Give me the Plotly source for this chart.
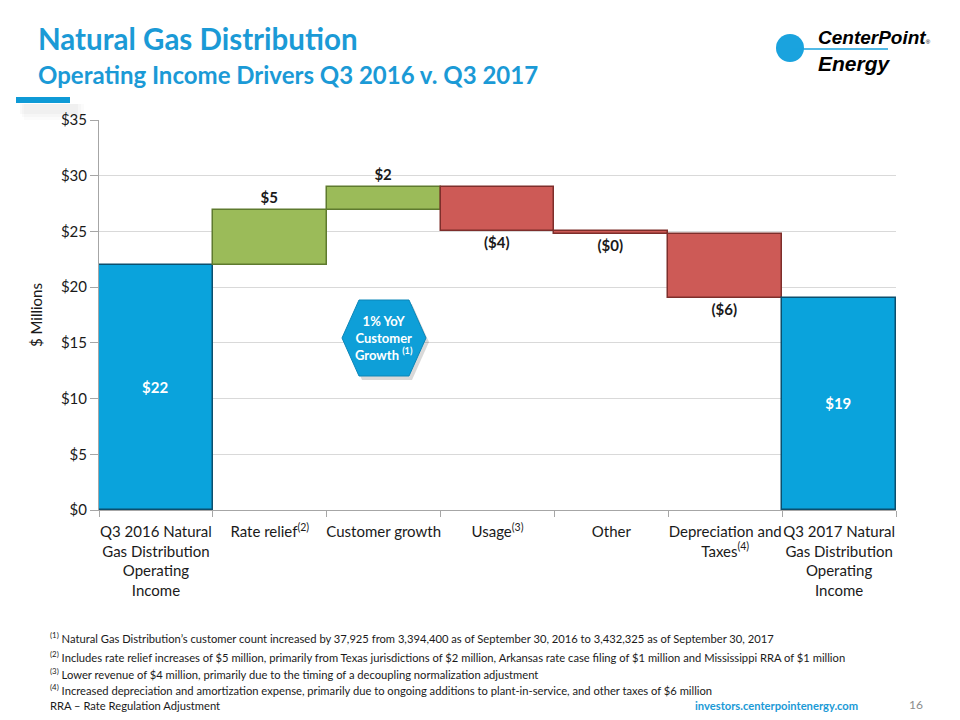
import plotly.graph_objects as go

# ---- data ----
categories = [
    "Q3 2016 Natural<br>Gas Distribution<br>Operating<br>Income",
    "Rate relief<sup>(2)</sup>",
    "Customer growth",
    "Usage<sup>(3)</sup>",
    "Other",
    "Depreciation and<br>Taxes<sup>(4)</sup>",
    "Q3 2017 Natural<br>Gas Distribution<br>Operating<br>Income",
]
values = [22.0, 4.9, 2.1, -4.0, -0.2, -5.8, 0]
measures = ["absolute", "relative", "relative", "relative", "relative", "relative", "total"]
end_value = 19.0
y_ticks = [0, 5, 10, 15, 20, 25, 30, 35]
y_tick_text = [f"${v}" for v in y_ticks]

footnotes = [
    "<sup>(1)</sup> Natural Gas Distribution\u2019s customer count increased by 37,925 from 3,394,400 as of September 30, 2016 to 3,432,325 as of September 30, 2017",
    "<sup>(2)</sup> Includes rate relief increases of $5 million, primarily from Texas jurisdictions of $2 million, Arkansas rate case filing of $1 million and Mississippi RRA of $1 million",
    "<sup>(3)</sup> Lower revenue of $4 million, primarily due to the timing of a decoupling normalization adjustment",
    "<sup>(4)</sup> Increased depreciation and amortization expense, primarily due to ongoing additions to plant-in-service, and other taxes of $6 million",
    "RRA \u2013 Rate Regulation Adjustment",
]

def fmt(v):
    r = round(abs(v))
    return f"(${r})" if v < 0 else f"${r}"

labels = [fmt(v) for v in values[:-1]] + [fmt(end_value)]
positions = ["inside"] + ["outside"] * 5 + ["inside"]

FONT = "Lato, 'Open Sans', sans-serif"
BLUE = "#1B9AD6"

fig = go.Figure(go.Waterfall(
    x=categories,
    y=values,
    measure=measures,
    text=labels,
    texttemplate="<b>%{text}</b>",
    textposition=positions,
    insidetextanchor="middle",
    insidetextfont=dict(family=FONT, size=15, color="white"),
    outsidetextfont=dict(family=FONT, size=15, color="#1a1a1a"),
    increasing=dict(marker=dict(color="#9BBB59", line=dict(color="#5E7A2E", width=1.5))),
    decreasing=dict(marker=dict(color="#CD5A56", line=dict(color="#7E2E2B", width=1.5))),
    totals=dict(marker=dict(color="#0AA3DC", line=dict(color="#0B4F6E", width=1.5))),
    connector=dict(visible=False),
    cliponaxis=False,
    hoverinfo="skip",
))

L, R, T, B = 99, 64, 120, 210
W, H = 960, 720
pw, ph = W - L - R, H - T - B

def px(x):
    return (x - L) / pw

def py(y):
    return (H - B - y) / ph

fig.update_layout(
    width=W, height=H,
    margin=dict(l=L, r=R, t=T, b=B),
    paper_bgcolor="white", plot_bgcolor="white",
    showlegend=False,
    font=dict(family=FONT, size=15, color="#1a1a1a"),
    waterfallgap=0,
)
fig.update_yaxes(
    range=[0, 35], tickmode="array", tickvals=y_ticks, ticktext=y_tick_text,
    showgrid=True, gridcolor="#D9D9D9", gridwidth=1,
    showline=True, linecolor="#A6A6A6", linewidth=1,
    ticks="outside", ticklen=8, tickcolor="#A6A6A6",
    tickfont=dict(family=FONT, size=15, color="#1a1a1a"),
    title=dict(text="$ Millions", font=dict(family=FONT, size=15, color="#1a1a1a"), standoff=14),
    zeroline=False,
)
fig.update_xaxes(
    showline=True, linecolor="#A6A6A6", linewidth=1,
    ticks="outside", ticklen=6, tickcolor="#A6A6A6", tickson="boundaries",
    tickfont=dict(family=FONT, size=15, color="#1a1a1a"),
    ticklabelstandoff=8,
    tickangle=0,
)

shapes = []
annotations = []

# Title
annotations.append(dict(xref="paper", yref="paper", x=px(36), y=py(38), xanchor="left", yanchor="middle",
                        text="<b>Natural Gas Distribution</b>", showarrow=False,
                        font=dict(family=FONT, size=29.5, color=BLUE)))
annotations.append(dict(xref="paper", yref="paper", x=px(36), y=py(74), xanchor="left", yanchor="middle",
                        text="<b>Operating Income Drivers Q3 2016 v. Q3 2017</b>", showarrow=False,
                        font=dict(family=FONT, size=24, color=BLUE)))
# underline accent with soft shadow
for i, a in enumerate([0.025, 0.02, 0.015]):
    shapes.append(dict(type="rect", xref="paper", yref="paper", x0=px(20 + 2 * i), x1=px(78 + 3 * i),
                       y0=py(104), y1=py(114 + 3 * i),
                       fillcolor=f"rgba(0,0,0,{a})", line=dict(width=0), layer="below"))
shapes.append(dict(type="rect", xref="paper", yref="paper", x0=px(16), x1=px(70), y0=py(97), y1=py(103),
                   fillcolor="#0E9AD6", line=dict(width=0)))

# Logo
shapes.append(dict(type="circle", xref="paper", yref="paper", x0=px(776), x1=px(804), y0=py(34), y1=py(62),
                   fillcolor="#1AA3DE", line=dict(width=0)))
shapes.append(dict(type="line", xref="paper", yref="paper", x0=px(792), x1=px(888), y0=py(49), y1=py(49),
                   line=dict(color="#1AA3DE", width=1.5)))
annotations.append(dict(xref="paper", yref="paper", x=px(816), y=py(37), xanchor="left", yanchor="middle",
                        text="<b><i>CenterPoint</i></b><span style='font-size:6px'>®</span>", showarrow=False,
                        font=dict(family="'Liberation Sans', sans-serif", size=19, color="black")))
annotations.append(dict(xref="paper", yref="paper", x=px(816), y=py(63), xanchor="left", yanchor="middle",
                        text="<b><i>Energy</i></b>", showarrow=False,
                        font=dict(family="'Liberation Sans', sans-serif", size=21, color="black")))

# Hexagon callout
cx, cy, hw, hh, ins = 384, 338, 42, 38, 17
hex_pts = [(cx - hw, cy), (cx - hw + ins, cy - hh), (cx + hw - ins, cy - hh), (cx + hw, cy),
           (cx + hw - ins, cy + hh), (cx - hw + ins, cy + hh)]
def hexpath(dx, dy):
    return "M " + " L ".join(f"{px(x+dx):.5f},{py(y+dy):.5f}" for x, y in hex_pts) + " Z"
shapes.append(dict(type="path", xref="paper", yref="paper", path=hexpath(3, 4),
                   fillcolor="rgba(0,0,0,0.15)", line=dict(width=0)))
shapes.append(dict(type="path", xref="paper", yref="paper", path=hexpath(0, 0),
                   fillcolor="#0E9FD8", line=dict(color="#0B86B8", width=1)))
annotations.append(dict(xref="paper", yref="paper", x=px(cx), y=py(cy), xanchor="center", yanchor="middle",
                        text="<b>1% YoY<br>Customer<br>Growth <sup>(1)</sup></b>", showarrow=False,
                        font=dict(family=FONT, size=13, color="white")))

# Footnotes
fy = [637, 656, 673, 689, 705]
for t, yy in zip(footnotes, fy):
    annotations.append(dict(xref="paper", yref="paper", x=px(48), y=py(yy), xanchor="left", yanchor="middle",
                            text=t, showarrow=False,
                            font=dict(family=FONT, size=11.2, color="#1a1a1a")))
annotations.append(dict(xref="paper", yref="paper", x=px(860), y=py(705), xanchor="right", yanchor="middle",
                        text="<b>investors.centerpointenergy.com</b>", showarrow=False,
                        font=dict(family=FONT, size=11.2, color="#1B9AD6")))
annotations.append(dict(xref="paper", yref="paper", x=px(925), y=py(704), xanchor="right", yanchor="middle",
                        text="16", showarrow=False,
                        font=dict(family=FONT, size=12, color="#8C8C8C")))

fig.update_layout(shapes=shapes, annotations=annotations)
fig.write_html("out.html")
